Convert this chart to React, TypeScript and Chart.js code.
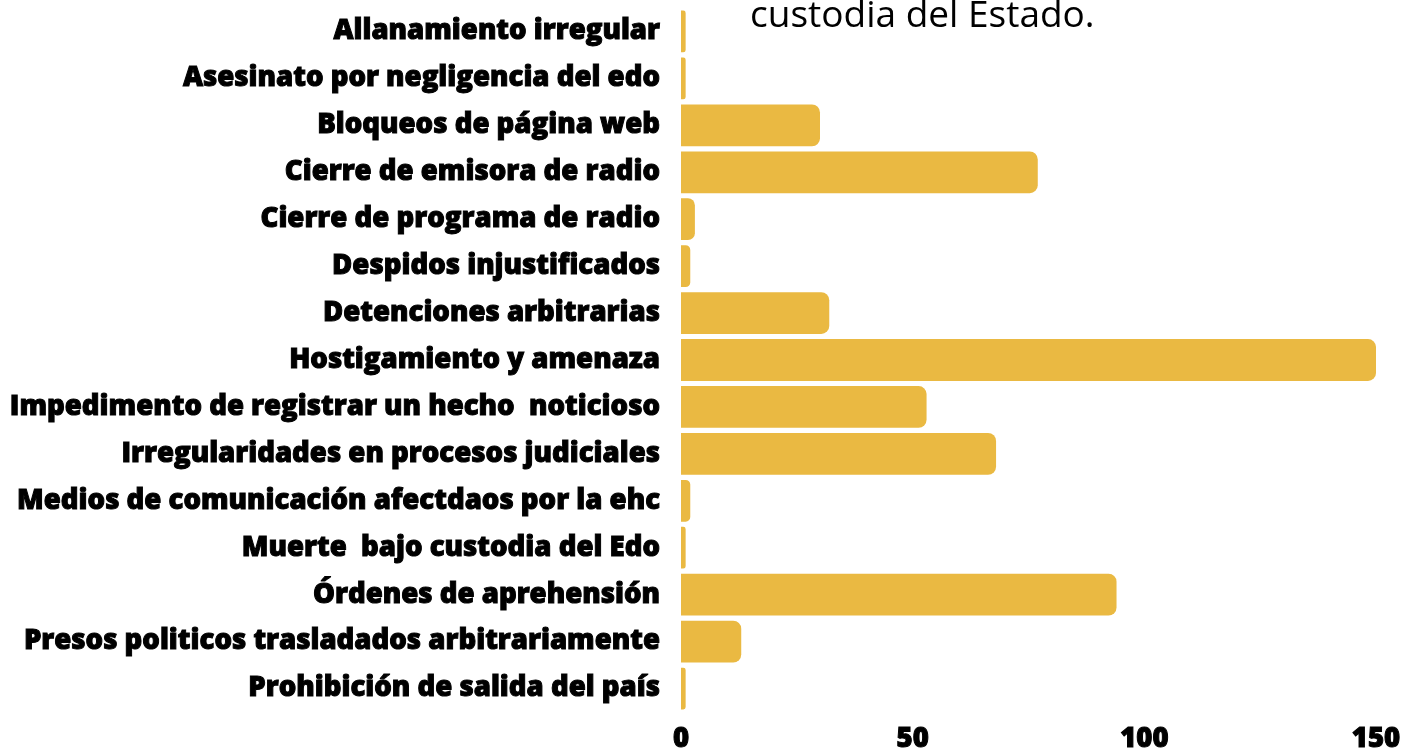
import React, { useEffect, useRef } from "react";
import { Chart, registerables } from "chart.js";

Chart.register(...registerables);

const categories: string[] = [
  "Allanamiento irregular",
  "Asesinato por negligencia del edo",
  "Bloqueos de página web",
  "Cierre de emisora de radio",
  "Cierre de programa de radio",
  "Despidos injustificados",
  "Detenciones arbitrarias",
  "Hostigamiento y amenaza",
  "Impedimento de registrar un hecho  noticioso",
  "Irregularidades en procesos judiciales",
  "Medios de comunicación afectdaos por la ehc",
  "Muerte  bajo custodia del Edo",
  "Órdenes de aprehensión",
  "Presos politicos trasladados arbitrariamente",
  "Prohibición de salida del país",
];

const casos: number[] = [1, 1, 30, 77, 3, 2, 32, 150, 53, 68, 2, 1, 94, 13, 1];

const xTicks: number[] = [0, 50, 100, 150];

const titleTail = "custodia del Estado.";

const BAR_COLOR = "rgb(234, 185, 66)";
const FONT_FAMILY = "'Open Sans', sans-serif";

export default function App() {
  const canvasRef = useRef<HTMLCanvasElement | null>(null);

  useEffect(() => {
    document.body.style.margin = "0";
    const canvas = canvasRef.current;
    if (!canvas) return;
    const chart = new Chart(canvas, {
      type: "bar",
      data: {
        labels: categories,
        datasets: [
          {
            label: "Casos",
            data: casos,
            backgroundColor: BAR_COLOR,
            borderRadius: 8,
            borderSkipped: "start",
            categoryPercentage: 1,
            barPercentage: 0.89,
          },
        ],
      },
      options: {
        indexAxis: "y",
        animation: false,
        responsive: false,
        maintainAspectRatio: false,
        layout: { padding: { top: 8, right: 30, bottom: 0, left: 0 } },
        plugins: {
          legend: { display: false },
          title: { display: false },
          tooltip: { enabled: false },
        },
        scales: {
          x: {
            type: "linear",
            min: 0,
            max: 150,
            afterBuildTicks: (scale: any) => {
              scale.ticks = xTicks.map((v) => ({ value: v }));
            },
            afterFit: (scale: any) => {
              scale.height = 39;
              scale.paddingLeft = 0;
              scale.paddingRight = 0;
            },
            grid: { display: false, drawTicks: false },
            border: { display: false },
            ticks: {
              color: "#000",
              padding: 11,
              maxRotation: 0,
              textStrokeColor: "#000",
              textStrokeWidth: 1,
              font: { family: FONT_FAMILY, size: 27.5, weight: 800 },
            },
          },
          y: {
            afterFit: (scale: any) => {
              scale.width = 681;
              scale.paddingTop = 0;
              scale.paddingBottom = 0;
            },
            grid: { display: false, drawTicks: false },
            border: { display: false },
            ticks: {
              color: "#000",
              padding: 21,
              autoSkip: false,
              textStrokeColor: "#000",
              textStrokeWidth: 1,
              font: { family: FONT_FAMILY, size: 27.6, weight: 800 },
            },
          },
        },
      },
    });
    return () => chart.destroy();
  }, []);

  return (
    <div style={{ position: "relative", width: 1406, height: 751, overflow: "hidden", background: "#fff" }}>
      <canvas ref={canvasRef} width={1406} height={751} style={{ position: "absolute", left: 0, top: 0 }} />
      <div
        style={{
          position: "absolute",
          left: 750,
          top: -6,
          fontFamily: FONT_FAMILY,
          fontSize: 37,
          lineHeight: "37px",
          color: "#000",
          whiteSpace: "nowrap",
        }}
      >
        {titleTail}
      </div>
    </div>
  );
}
